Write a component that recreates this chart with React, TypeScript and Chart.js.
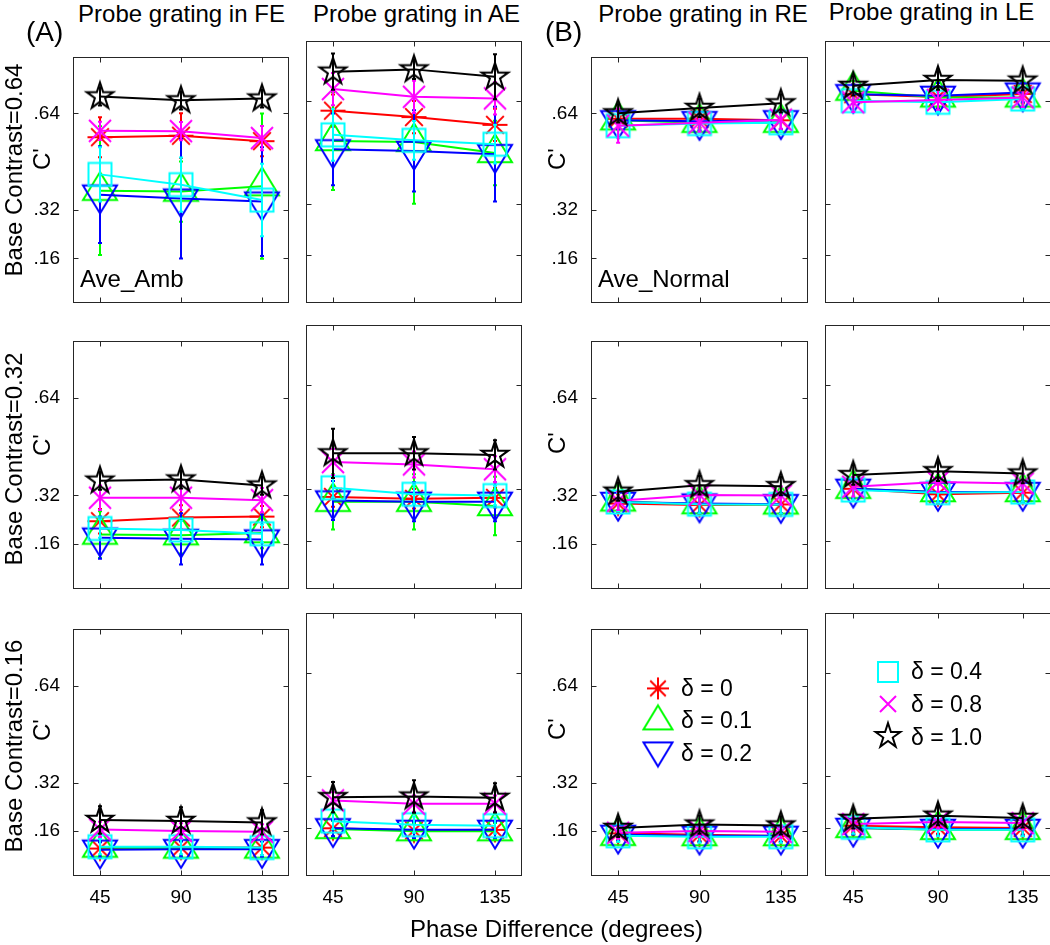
import React, { useEffect, useRef } from 'react';
import { Chart, registerables } from 'chart.js';

Chart.register(...registerables);

const FONT = "'Liberation Sans', Arial, Helvetica, sans-serif";

// ---------------- data ----------------
const phaseDiffs = [45, 90, 135];
const xTickLabels = ['45', '90', '135'];
const yTickValues = [0.16, 0.32, 0.64];
const yTickLabels = ['.16', '.32', '.64'];
const deltaLabels = ['δ = 0', 'δ = 0.1', 'δ = 0.2', 'δ = 0.4', 'δ = 0.8', 'δ = 1.0'];
const seriesColors = ['#ff0000', '#00ff00', '#0000ff', '#00ffff', '#ff00ff', '#000000'];
const columnTitles = ['Probe grating in FE', 'Probe grating in AE', 'Probe grating in RE', 'Probe grating in LE'];
const rowLabels = ['Base Contrast=0.64', 'Base Contrast=0.32', 'Base Contrast=0.16'];
const groupLabels = ['Ave_Amb', 'Ave_Normal'];
const panelLetters = ['(A)', '(B)'];
const yAxisTitle = "C'";
const xAxisTitle = 'Phase Difference (degrees)';

// rows of each table: δ = 0, 0.1, 0.2, 0.4, 0.8, 1.0 ; columns: 45, 90, 135 deg
const ambFE064 = [
  [0.561, 0.566, 0.548],
  [0.384, 0.381, 0.399],
  [0.371, 0.358, 0.348],
  [0.438, 0.404, 0.353],
  [0.582, 0.581, 0.558],
  [0.696, 0.683, 0.689],
];
const ambFE064Err = [
  [0.066, 0.074, 0.05],
  [0.213, 0.1, 0.24],
  [0.16, 0.198, 0.18],
  [0.09, 0.09, 0.12],
  [0.03, 0.03, 0.04],
  [0.03, 0.03, 0.03],
];
const ambAE064 = [
  [0.609, 0.589, 0.565],
  [0.515, 0.512, 0.478],
  [0.489, 0.484, 0.474],
  [0.534, 0.517, 0.505],
  [0.676, 0.652, 0.647],
  [0.73, 0.737, 0.714],
];
const ambAE064Err = [
  [0.05, 0.05, 0.05],
  [0.152, 0.192, 0.1],
  [0.111, 0.126, 0.147],
  [0.08, 0.06, 0.06],
  [0.05, 0.05, 0.05],
  [0.056, 0.03, 0.07],
];
const normRE064 = [
  [0.622, 0.622, 0.617],
  [0.617, 0.609, 0.609],
  [0.617, 0.614, 0.617],
  [0.599, 0.606, 0.609],
  [0.599, 0.609, 0.619],
  [0.64, 0.658, 0.673],
];
const normRE064Err = [
  [0.03, 0.03, 0.03],
  [0.03, 0.03, 0.03],
  [0.03, 0.03, 0.03],
  [0.03, 0.03, 0.03],
  [0.056, 0.03, 0.03],
  [0.03, 0.03, 0.03],
];
const normLE064 = [
  [0.66, 0.651, 0.661],
  [0.671, 0.65, 0.65],
  [0.66, 0.655, 0.665],
  [0.64, 0.635, 0.645],
  [0.635, 0.642, 0.65],
  [0.686, 0.704, 0.702],
];
const normLE064Err = [
  [0.03, 0.03, 0.03],
  [0.03, 0.03, 0.03],
  [0.03, 0.04, 0.03],
  [0.03, 0.03, 0.03],
  [0.03, 0.03, 0.03],
  [0.03, 0.03, 0.03],
];
const ambFE032 = [
  [0.235, 0.247, 0.25],
  [0.191, 0.189, 0.196],
  [0.181, 0.177, 0.175],
  [0.211, 0.206, 0.194],
  [0.312, 0.312, 0.304],
  [0.368, 0.372, 0.352],
];
const ambFE032Err = [
  [0.04, 0.04, 0.035],
  [0.077, 0.06, 0.05],
  [0.069, 0.084, 0.082],
  [0.03, 0.03, 0.03],
  [0.04, 0.04, 0.04],
  [0.03, 0.03, 0.03],
];
const ambAE032 = [
  [0.296, 0.29, 0.293],
  [0.281, 0.281, 0.268],
  [0.285, 0.281, 0.281],
  [0.324, 0.304, 0.3],
  [0.403, 0.396, 0.381],
  [0.43, 0.43, 0.425],
];
const ambAE032Err = [
  [0.03, 0.03, 0.03],
  [0.085, 0.085, 0.09],
  [0.06, 0.06, 0.06],
  [0.03, 0.03, 0.03],
  [0.04, 0.04, 0.04],
  [0.076, 0.05, 0.045],
];
const normRE032 = [
  [0.293, 0.288, 0.29],
  [0.3, 0.291, 0.29],
  [0.298, 0.293, 0.291],
  [0.298, 0.291, 0.29],
  [0.302, 0.321, 0.319],
  [0.332, 0.353, 0.35],
];
const normRE032Err = [
  [0.03, 0.03, 0.03],
  [0.03, 0.03, 0.03],
  [0.03, 0.03, 0.03],
  [0.03, 0.03, 0.03],
  [0.03, 0.03, 0.03],
  [0.03, 0.03, 0.03],
];
const normLE032 = [
  [0.321, 0.304, 0.309],
  [0.321, 0.311, 0.311],
  [0.321, 0.311, 0.311],
  [0.317, 0.309, 0.311],
  [0.327, 0.342, 0.337],
  [0.363, 0.375, 0.368],
];
const normLE032Err = [
  [0.03, 0.03, 0.03],
  [0.03, 0.03, 0.03],
  [0.03, 0.03, 0.03],
  [0.03, 0.03, 0.03],
  [0.03, 0.03, 0.03],
  [0.03, 0.03, 0.03],
];
const ambFE016 = [
  [0.103, 0.106, 0.106],
  [0.106, 0.103, 0.103],
  [0.099, 0.101, 0.101],
  [0.109, 0.109, 0.106],
  [0.166, 0.161, 0.158],
  [0.197, 0.194, 0.189],
];
const ambFE016Err = [
  [0.025, 0.025, 0.025],
  [0.025, 0.025, 0.025],
  [0.025, 0.025, 0.025],
  [0.025, 0.025, 0.025],
  [0.025, 0.025, 0.025],
  [0.045, 0.045, 0.04],
];
const ambAE016 = [
  [0.16, 0.153, 0.155],
  [0.158, 0.151, 0.151],
  [0.16, 0.155, 0.155],
  [0.182, 0.171, 0.168],
  [0.246, 0.236, 0.236],
  [0.256, 0.258, 0.254],
];
const ambAE016Err = [
  [0.025, 0.025, 0.025],
  [0.025, 0.025, 0.025],
  [0.025, 0.025, 0.025],
  [0.025, 0.025, 0.025],
  [0.025, 0.025, 0.025],
  [0.047, 0.05, 0.045],
];
const normRE016 = [
  [0.153, 0.148, 0.144],
  [0.145, 0.144, 0.144],
  [0.148, 0.145, 0.145],
  [0.145, 0.142, 0.142],
  [0.155, 0.161, 0.158],
  [0.171, 0.182, 0.179],
];
const normRE016Err = [
  [0.02, 0.02, 0.02],
  [0.02, 0.02, 0.02],
  [0.02, 0.02, 0.02],
  [0.02, 0.02, 0.02],
  [0.02, 0.02, 0.02],
  [0.03, 0.03, 0.03],
];
const normLE016 = [
  [0.168, 0.163, 0.161],
  [0.161, 0.155, 0.155],
  [0.161, 0.158, 0.158],
  [0.163, 0.155, 0.155],
  [0.173, 0.179, 0.176],
  [0.189, 0.199, 0.192],
];
const normLE016Err = [
  [0.02, 0.02, 0.02],
  [0.02, 0.02, 0.02],
  [0.02, 0.02, 0.02],
  [0.02, 0.02, 0.02],
  [0.02, 0.02, 0.02],
  [0.03, 0.03, 0.03],
];

const panelValues = [
  [ambFE064, ambAE064, normRE064, normLE064],
  [ambFE032, ambAE032, normRE032, normLE032],
  [ambFE016, ambAE016, normRE016, normLE016],
];
const panelErrors = [
  [ambFE064Err, ambAE064Err, normRE064Err, normLE064Err],
  [ambFE032Err, ambAE032Err, normRE032Err, normLE032Err],
  [ambFE016Err, ambAE016Err, normRE016Err, normLE016Err],
];

// ---------------- layout ----------------
const COL_L = [73, 306, 591, 825];
const COL_R = [289, 522, 808, 1051];
const ROW_T = [41, 325, 613];
const ROW_B = [303, 589, 876];
const PAD_L = 70;
const PAD_R = 8;
const PAD_T = 8;
const PAD_B = 50;
const X_MIN = 30;
const X_MAX = 150;
const Y_MIN = 0.0125;
const Y_MAX = 0.825;

type Dims = { ast: number; triW: number; triH: number; sq: number; x: number; star: number };
const dataDims: Dims = { ast: 12.5, triW: 17, triH: 28, sq: 11.5, x: 11, star: 14 };
const legendDims: Dims = { ast: 11, triW: 14.5, triH: 24, sq: 10, x: 8, star: 13 };

function makeMarker(kind: number, d: Dims, color: string, lw = 2): HTMLCanvasElement {
  const ext = Math.max(d.ast, d.triW, d.triH, d.sq, d.x, d.star) + lw + 4;
  const size = Math.ceil(ext) * 2;
  const c = document.createElement('canvas');
  c.width = size;
  c.height = size;
  const g = c.getContext('2d') as CanvasRenderingContext2D;
  const cx = size / 2;
  const cy = size / 2;
  g.strokeStyle = color;
  g.lineWidth = lw;
  g.lineJoin = 'miter';
  g.beginPath();
  if (kind === 0) {
    for (let k = 0; k < 4; k++) {
      const a = (k * Math.PI) / 4;
      g.moveTo(cx + d.ast * Math.cos(a), cy + d.ast * Math.sin(a));
      g.lineTo(cx - d.ast * Math.cos(a), cy - d.ast * Math.sin(a));
    }
  } else if (kind === 1) {
    g.moveTo(cx, cy - (2 * d.triH) / 3);
    g.lineTo(cx + d.triW, cy + d.triH / 3);
    g.lineTo(cx - d.triW, cy + d.triH / 3);
    g.closePath();
  } else if (kind === 2) {
    g.moveTo(cx, cy + (2 * d.triH) / 3);
    g.lineTo(cx + d.triW, cy - d.triH / 3);
    g.lineTo(cx - d.triW, cy - d.triH / 3);
    g.closePath();
  } else if (kind === 3) {
    g.rect(cx - d.sq, cy - d.sq, 2 * d.sq, 2 * d.sq);
  } else if (kind === 4) {
    g.moveTo(cx - d.x, cy - d.x);
    g.lineTo(cx + d.x, cy + d.x);
    g.moveTo(cx + d.x, cy - d.x);
    g.lineTo(cx - d.x, cy + d.x);
  } else {
    for (let k = 0; k < 10; k++) {
      const a = -Math.PI / 2 + (k * Math.PI) / 5;
      const rr = k % 2 === 0 ? d.star : d.star * 0.382;
      const px = cx + rr * Math.cos(a);
      const py = cy + rr * Math.sin(a);
      if (k === 0) g.moveTo(px, py);
      else g.lineTo(px, py);
    }
    g.closePath();
  }
  g.stroke();
  return c;
}

type LegendCfg = { series: number[]; markerX: number; textX: number; markerDy: number[]; textDy: number[] };
const legendConfigs: Record<string, LegendCfg> = {
  '2-2': { series: [0, 1, 2], markerX: 67, textX: 90, markerDy: [59, 92, 121], textDy: [66.5, 99, 132] },
  '2-3': { series: [3, 4, 5], markerX: 63, textX: 86, markerDy: [59, 91, 123], textDy: [66, 98.5, 132] },
};

function Panel({ row, col }: { row: number; col: number }) {
  const ref = useRef<HTMLCanvasElement>(null);
  const boxW = COL_R[col] - COL_L[col];
  const boxH = ROW_B[row] - ROW_T[row];
  const W = PAD_L + boxW + PAD_R;
  const H = PAD_T + boxH + PAD_B;

  useEffect(() => {
    const values = panelValues[row][col];
    const errors = panelErrors[row][col];
    const showY = col === 0 || col === 2;
    const showX = row === 2;
    const markers = seriesColors.map((clr, i) => makeMarker(i, dataDims, clr));
    const legend = legendConfigs[`${row}-${col}`];

    const datasets = values.map((vals, i) => ({
      label: deltaLabels[i],
      data: phaseDiffs.map((x, j) => ({ x, y: vals[j] })),
      borderColor: seriesColors[i],
      backgroundColor: seriesColors[i],
      borderWidth: 2,
      pointStyle: markers[i] as any,
      pointRadius: 6,
      pointHoverRadius: 6,
      tension: 0,
      fill: false,
      order: values.length - 1 - i,
      clip: false as any,
    }));

    const errorBars = {
      id: 'errorBars',
      beforeDatasetDraw(chart: any, args: any) {
        const i = args.index;
        const errs = errors[i];
        const vals = values[i];
        const xs = chart.scales.x;
        const ys = chart.scales.y;
        const ctx = chart.ctx as CanvasRenderingContext2D;
        ctx.save();
        ctx.strokeStyle = seriesColors[i];
        ctx.lineWidth = 2;
        ctx.beginPath();
        phaseDiffs.forEach((x, j) => {
          const px = xs.getPixelForValue(x);
          const y1 = ys.getPixelForValue(vals[j] - errs[j]);
          const y2 = ys.getPixelForValue(vals[j] + errs[j]);
          ctx.moveTo(px, y1);
          ctx.lineTo(px, y2);
          ctx.moveTo(px - 2, y1);
          ctx.lineTo(px + 2, y1);
          ctx.moveTo(px - 2, y2);
          ctx.lineTo(px + 2, y2);
        });
        ctx.stroke();
        ctx.restore();
      },
    };

    const boxPlugin = {
      id: 'matBox',
      afterDraw(chart: any) {
        const a = chart.chartArea;
        const ctx = chart.ctx as CanvasRenderingContext2D;
        ctx.save();
        ctx.strokeStyle = '#262626';
        ctx.lineWidth = 1;
        const l = Math.round(a.left) + 0.5;
        const r = Math.round(a.right) - 0.5;
        const t = Math.round(a.top) + 0.5;
        const b = Math.round(a.bottom) - 0.5;
        ctx.strokeRect(l, t, r - l, b - t);
        ctx.beginPath();
        const tl = 5;
        phaseDiffs.forEach((v) => {
          const px = Math.round(chart.scales.x.getPixelForValue(v)) + 0.5;
          ctx.moveTo(px, t);
          ctx.lineTo(px, t + tl);
          ctx.moveTo(px, b);
          ctx.lineTo(px, b - tl);
        });
        yTickValues.forEach((v) => {
          const py = Math.round(chart.scales.y.getPixelForValue(v)) + 0.5;
          ctx.moveTo(l, py);
          ctx.lineTo(l + tl, py);
          ctx.moveTo(r, py);
          ctx.lineTo(r - tl, py);
        });
        ctx.stroke();
        ctx.restore();
      },
    };

    const legendPlugin = {
      id: 'inlineLegend',
      afterDatasetsDraw(chart: any) {
        if (!legend) return;
        const a = chart.chartArea;
        const ctx = chart.ctx as CanvasRenderingContext2D;
        ctx.save();
        ctx.font = `23px ${FONT}`;
        ctx.fillStyle = '#000';
        ctx.textBaseline = 'alphabetic';
        ctx.textAlign = 'left';
        legend.series.forEach((s, k) => {
          const m = makeMarker(s, legendDims, seriesColors[s]);
          ctx.drawImage(m, a.left + legend.markerX - m.width / 2, a.top + legend.markerDy[k] - m.height / 2);
          ctx.fillText(deltaLabels[s], a.left + legend.textX, a.top + legend.textDy[k]);
        });
        ctx.restore();
      },
    };

    const chart = new Chart(ref.current as HTMLCanvasElement, {
      type: 'line',
      data: { datasets: datasets as any },
      options: {
        animation: false,
        responsive: false,
        maintainAspectRatio: false,
        events: [],
        layout: { padding: { left: 0, right: PAD_R, top: PAD_T, bottom: 0 } },
        plugins: { legend: { display: false }, tooltip: { enabled: false }, title: { display: false } },
        scales: {
          x: {
            type: 'linear',
            position: 'bottom',
            min: X_MIN,
            max: X_MAX,
            grid: { display: false, drawTicks: false },
            border: { display: false },
            ticks: {
              display: showX,
              color: '#000',
              font: { family: FONT, size: 19 },
              padding: 10,
              maxRotation: 0,
              autoSkip: false,
              callback: (v: any) => xTickLabels[phaseDiffs.indexOf(Number(v))] ?? '',
            },
            afterBuildTicks: (s: any) => {
              s.ticks = phaseDiffs.map((v) => ({ value: v }));
            },
            afterFit: (s: any) => {
              s.height = PAD_B;
            },
          },
          y: {
            type: 'linear',
            position: 'left',
            min: Y_MIN,
            max: Y_MAX,
            grid: { display: false, drawTicks: false },
            border: { display: false },
            ticks: {
              display: showY,
              color: '#000',
              font: { family: FONT, size: 19 },
              padding: 13,
              autoSkip: false,
              callback: (v: any) => yTickLabels[yTickValues.indexOf(Number(v))] ?? '',
            },
            afterBuildTicks: (s: any) => {
              s.ticks = yTickValues.map((v) => ({ value: v }));
            },
            afterFit: (s: any) => {
              s.width = PAD_L;
            },
          },
        },
      } as any,
      plugins: [errorBars, legendPlugin, boxPlugin],
    });
    return () => chart.destroy();
  }, [row, col]);

  return (
    <canvas
      ref={ref}
      width={W}
      height={H}
      style={{ position: 'absolute', left: COL_L[col] - PAD_L, top: ROW_T[row] - PAD_T, width: W, height: H }}
    />
  );
}

function Label({
  text,
  left,
  top,
  size = 24,
  rotate = false,
  cx,
  cy,
  center,
  width,
}: {
  text: string;
  left?: number;
  top?: number;
  size?: number;
  rotate?: boolean;
  cx?: number;
  cy?: number;
  center?: boolean;
  width?: number;
}) {
  if (rotate) {
    const w = 320;
    return (
      <div
        style={{
          position: 'absolute',
          left: (cx as number) - w / 2,
          top: (cy as number) - size / 2,
          width: w,
          height: size,
          lineHeight: `${size}px`,
          fontSize: size,
          textAlign: 'center',
          whiteSpace: 'nowrap',
          transform: 'rotate(-90deg)',
          transformOrigin: '50% 50%',
        }}
      >
        {text}
      </div>
    );
  }
  return (
    <div
      style={{
        position: 'absolute',
        left,
        top,
        width,
        fontSize: size,
        lineHeight: `${size}px`,
        textAlign: center ? 'center' : 'left',
        whiteSpace: 'nowrap',
      }}
    >
      {text}
    </div>
  );
}

const titleCenters = [181.5, 416.5, 703, 931.5];
const titleTops = [1.5, 1.5, 1.5, 0];
const rowLabelCy = [169.5, 458.5, 745.5];
const cPrimeCx = [41.6, 556.5];
const cPrimeCy = [[158.5, 445, 730], [158.5, 443, 729]];

export default function App() {
  return (
    <div
      style={{
        position: 'absolute',
        left: 0,
        top: 0,
        width: 1050,
        height: 945,
        overflow: 'hidden',
        background: '#ffffff',
        fontFamily: FONT,
        color: '#000',
      }}
    >
      {[0, 1, 2].map((r) => [0, 1, 2, 3].map((c) => <Panel key={`${r}-${c}`} row={r} col={c} />))}
      {columnTitles.map((t, i) => (
        <Label key={t} text={t} left={titleCenters[i] - 150} top={titleTops[i]} width={300} center />
      ))}
      <Label text={panelLetters[0]} left={26} top={18} size={28} />
      <Label text={panelLetters[1]} left={545} top={18} size={28} />
      {rowLabels.map((t, i) => (
        <Label key={t} text={t} rotate cx={13.8} cy={rowLabelCy[i]} />
      ))}
      {[0, 1].map((g) =>
        [0, 1, 2].map((r) => (
          <Label key={`c${g}${r}`} text={yAxisTitle} rotate cx={cPrimeCx[g]} cy={cPrimeCy[g][r]} />
        ))
      )}
      <Label text={groupLabels[0]} left={80} top={266.5} />
      <Label text={groupLabels[1]} left={598} top={266.5} />
      <Label text={xAxisTitle} left={410} top={916.5} />
    </div>
  );
}
